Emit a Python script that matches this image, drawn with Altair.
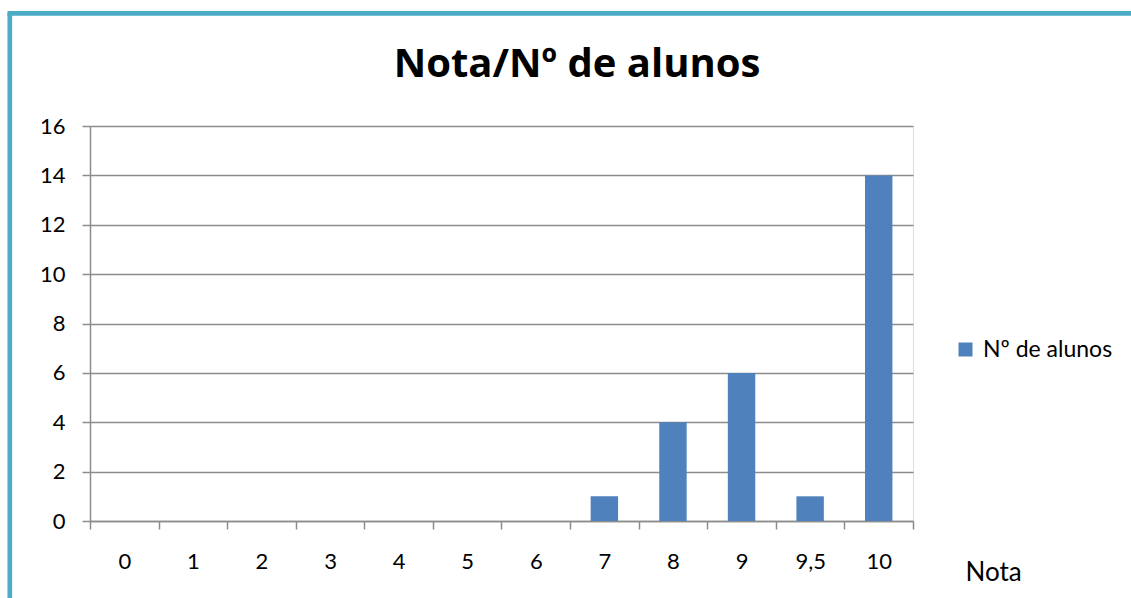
import altair as alt
import pandas as pd

titulo = "Nota/Nº de alunos"
notas = ["0", "1", "2", "3", "4", "5", "6", "7", "8", "9", "9,5", "10"]
alunos = [0, 0, 0, 0, 0, 0, 0, 1, 4, 6, 1, 14]
serie = "Nº de alunos"
y_ticks = [0, 2, 4, 6, 8, 10, 12, 14, 16]

df = pd.DataFrame({"Nota": notas, "Alunos": alunos, "Serie": [serie] * len(notas)})

FONT = "Lato"
GRID = "#8c8c8c"
BLUE = "#4f81bd"
FRAME = "#4bacc6"

bars = alt.Chart(df).mark_bar(width=alt.RelativeBandSize(0.4)).encode(
    x=alt.X(
        "Nota:N",
        sort=notas,
        scale=alt.Scale(paddingInner=0, paddingOuter=0),
        axis=alt.Axis(
            title="Nota",
            titleX=875,
            titleY=59,
            titleAlign="left",
            titleBaseline="alphabetic",
            titleFontSize=26,
            titleFontWeight="normal",
            titleFont=FONT,
            titleColor="#000000",
            labelAngle=0,
            labelFont=FONT,
            labelFontSize=22,
            labelColor="#000000",
            labelPadding=22,
            tickBand="extent",
            tickSize=8,
            tickColor=GRID,
            tickWidth=1.5,
            domainColor=GRID,
            domainWidth=1.5,
            grid=False,
        ),
    ),
    y=alt.Y(
        "Alunos:Q",
        scale=alt.Scale(domain=[0, 16], nice=False),
        axis=alt.Axis(
            title=None,
            values=y_ticks,
            labelFont=FONT,
            labelFontSize=22,
            labelColor="#000000",
            labelPadding=17,
            tickSize=8,
            tickColor=GRID,
            tickWidth=1.5,
            domainColor=GRID,
            domainWidth=1.5,
            grid=True,
            gridColor=GRID,
            gridWidth=1.5,
        ),
    ),
    color=alt.Color(
        "Serie:N",
        scale=alt.Scale(range=[BLUE]),
        legend=alt.Legend(
            title=None,
            orient="none",
            legendX=864,
            legendY=212,
            symbolType="square",
            symbolSize=196,
            symbolStrokeWidth=0,
            symbolOpacity=1,
            labelFont=FONT,
            labelFontSize=23,
            labelColor="#000000",
            labelOffset=6,
        ),
    ),
)

one = pd.DataFrame({"k": [0]})
left_edge = alt.Chart(one).mark_rule(color=FRAME, strokeWidth=4.7).encode(
    x=alt.value(-80.2), y=alt.value(-112.7), y2=alt.value(500)
)
top_edge = alt.Chart(one).mark_rule(color=FRAME, strokeWidth=4.7).encode(
    x=alt.value(-82.5), x2=alt.value(1100), y=alt.value(-112.7)
)
title_mark = alt.Chart(one).mark_text(
    font="Open Sans", fontSize=40, fontWeight="bold", color="#000000",
    align="center", baseline="alphabetic",
).encode(x=alt.value(487), y=alt.value(-49), text=alt.value(titulo))

chart = alt.layer(bars, left_edge, top_edge, title_mark).properties(
    width=823,
    height=395,
    padding={"left": 90, "top": 126, "right": 218, "bottom": 77},
    autosize=alt.AutoSizeParams(type="none"),
).configure_view(stroke=None).configure(background="white")

chart.save("out.html", embed_options={"renderer": "svg", "actions": False})
